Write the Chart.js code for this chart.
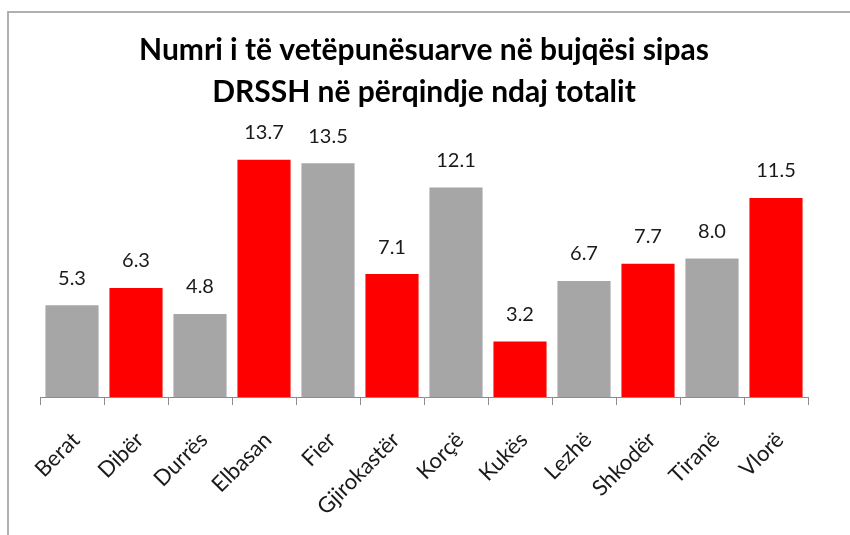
<!DOCTYPE html>
<html lang="sq">
<head>
    <meta charset="UTF-8">
    <title>Numri i të vetëpunësuarve në bujqësi sipas DRSSH</title>
    <script src="https://cdn.jsdelivr.net/npm/chart.js"></script>
    <style>
        body {
            margin: 0;
            background: white;
        }
        #chart-container {
            position: relative;
            width: 850px;
            height: 535px;
        }
        #frame {
            position: absolute;
            left: 7px;
            top: 11px;
            right: -10px;
            bottom: -10px;
            border-left: 2px solid #b0b0b0;
            border-top: 2px solid #b0b0b0;
            pointer-events: none;
        }
    </style>
</head>
<body>
    <div id="chart-container">
        <canvas id="drsshChart" width="850" height="535"></canvas>
        <div id="frame"></div>
    </div>

    <script>
        // Data
        const categories = ['Berat', 'Dibër', 'Durrës', 'Elbasan', 'Fier', 'Gjirokastër',
                            'Korçë', 'Kukës', 'Lezhë', 'Shkodër', 'Tiranë', 'Vlorë'];
        const values = [5.3, 6.3, 4.8, 13.7, 13.5, 7.1, 12.1, 3.2, 6.7, 7.7, 8.0, 11.5];
        const titleLines = ['Numri i të vetëpunësuarve në bujqësi sipas', 'DRSSH në përqindje ndaj totalit'];

        const grey = '#a6a6a6';
        const red = '#ff0000';
        const barColors = categories.map((_, i) => i % 2 === 0 ? grey : red);

        // draws the value above each bar
        const valueLabels = {
            id: 'valueLabels',
            afterDatasetsDraw(chart) {
                const ctx = chart.ctx;
                const meta = chart.getDatasetMeta(0);
                ctx.save();
                ctx.font = '20px Lato';
                ctx.fillStyle = '#1a1a1a';
                ctx.textAlign = 'center';
                ctx.textBaseline = 'middle';
                meta.data.forEach((bar, i) => {
                    ctx.fillText(values[i].toFixed(1), bar.x, bar.y - 27);
                });
                ctx.restore();
            }
        };

        const ctx = document.getElementById('drsshChart').getContext('2d');
        const chart = new Chart(ctx, {
            type: 'bar',
            data: {
                labels: categories,
                datasets: [{
                    data: values,
                    backgroundColor: barColors,
                    borderWidth: 0,
                    barPercentage: 0.83,
                    categoryPercentage: 1.0,
                }],
            },
            options: {
                responsive: false,
                animation: false,
                layout: {
                    padding: { top: 8, left: 40, right: 42, bottom: 0 },
                },
                plugins: {
                    legend: { display: false },
                    tooltip: { enabled: false },
                    title: {
                        display: true,
                        text: titleLines,
                        color: '#000',
                        font: { family: 'Lato', size: 30, weight: 'bold', lineHeight: '42px' },
                        padding: { top: 21, bottom: 7 },
                    },
                },
                scales: {
                    x: {
                        grid: {
                            display: true,
                            offset: true,
                            drawOnChartArea: false,
                            tickLength: 8,
                            color: '#8c8c8c',
                        },
                        border: { color: '#8c8c8c', width: 1 },
                        ticks: {
                            color: '#1a1a1a',
                            font: { family: 'Lato', size: 22 },
                            maxRotation: 45,
                            minRotation: 45,
                            padding: 22,
                            labelOffset: 4,
                            autoSkip: false,
                        },
                        afterFit(axis) {
                            axis.height = 138;
                            axis.paddingLeft = 0;
                            axis.paddingRight = 0;
                        },
                    },
                    y: {
                        display: false,
                        min: 0,
                        max: 16,
                    },
                },
            },
            plugins: [valueLabels],
        });
    </script>
</body>
</html>
